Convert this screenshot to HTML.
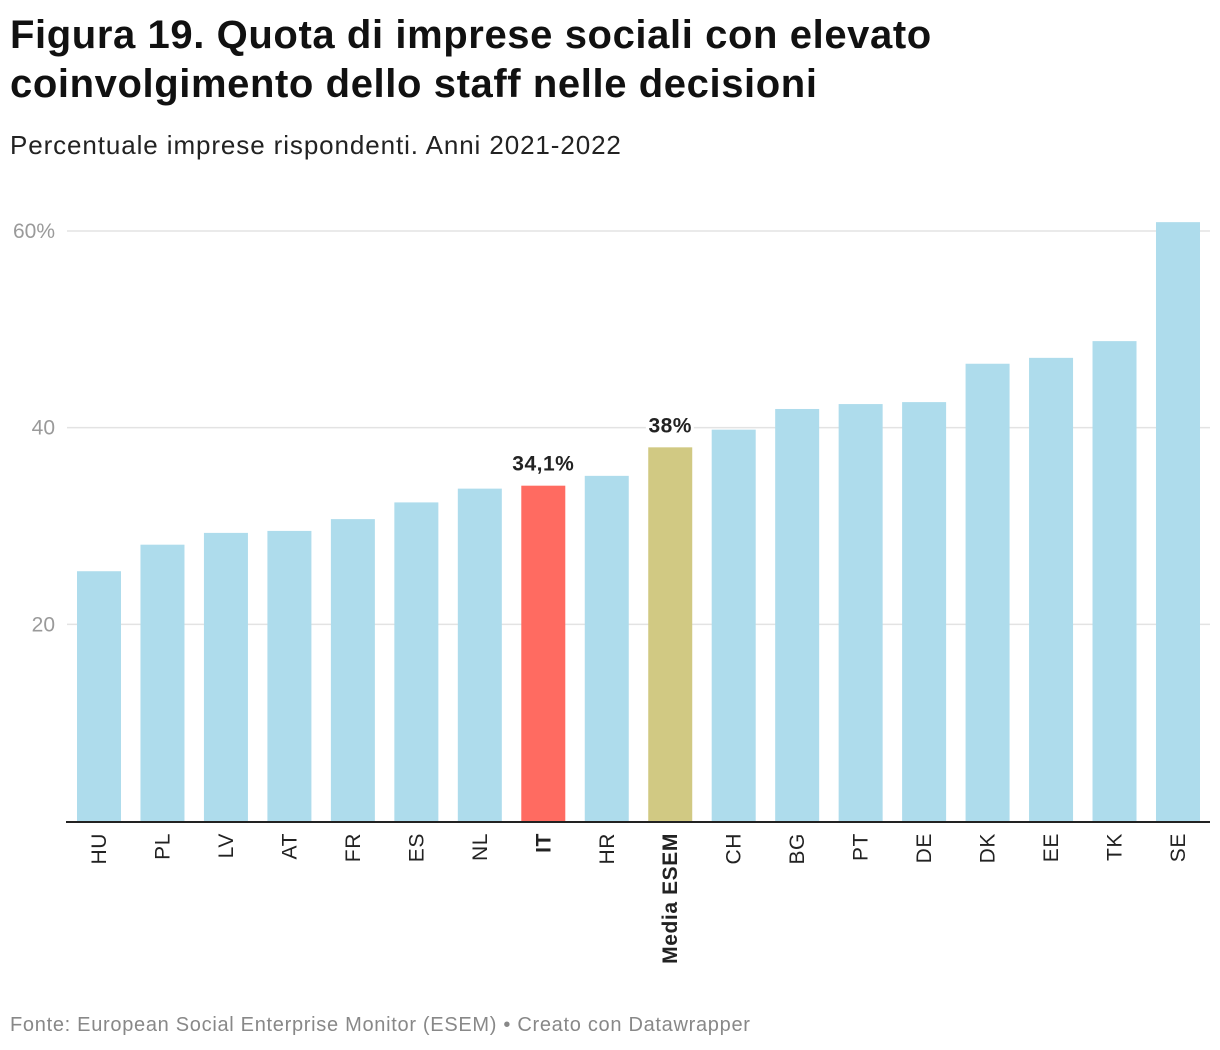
<!DOCTYPE html>
<html><head><meta charset="utf-8"><style>
body{margin:0;background:#fff;font-family:"Liberation Sans",sans-serif;}
#wrap{position:relative;width:1220px;height:1050px;overflow:hidden}
h1{position:absolute;left:10px;top:11px;margin:0;font-size:40px;line-height:49px;font-weight:bold;color:#111;letter-spacing:0.6px;white-space:nowrap}
.sub{position:absolute;left:10px;top:130px;font-size:26px;color:#222;letter-spacing:0.9px;white-space:nowrap}
.foot{position:absolute;left:10px;top:1014px;font-size:20px;color:#888;letter-spacing:0.7px;white-space:nowrap}
svg{position:absolute;left:0;top:0}
</style></head><body>
<div id="wrap">
<h1>Figura 19. Quota di imprese sociali con elevato<br>coinvolgimento dello staff nelle decisioni</h1>
<div class="sub">Percentuale imprese rispondenti. Anni 2021-2022</div>
<svg id="c" width="1220" height="1050"></svg>
<div class="foot">Fonte: European Social Enterprise Monitor (ESEM) • Creato con Datawrapper</div>
</div>
<script>
const categories=["HU","PL","LV","AT","FR","ES","NL","IT","HR","Media ESEM","CH","BG","PT","DE","DK","EE","TK","SE"];
const values=[25.4,28.1,29.3,29.5,30.7,32.4,33.8,34.1,35.1,38,39.8,41.9,42.4,42.6,46.5,47.1,48.8,60.9];
const tickValues=[20,40,60];
const tickLabels=["20","40","60%"];
const highlights={"IT":"#ff6b61","Media ESEM":"#d1c983"};
const valueLabels={"IT":"34,1%","Media ESEM":"38%"};
const NS="http://www.w3.org/2000/svg";
const svg=document.getElementById('c');
const y0=821, pxPer=(821-231)/60;
const y=v=>y0-v*pxPer;
const x=i=>77+i*63.47;
const bw=44;
function mk(t,a){const e=document.createElementNS(NS,t);for(const k in a)e.setAttribute(k,a[k]);svg.appendChild(e);return e;}
tickValues.forEach((v,i)=>{
 const g=mk('line',{x1:67,x2:1210,y1:y(v),y2:y(v),stroke:'#e3e3e3','stroke-width':1.5});
 
 
 const t=mk('text',{x:55,y:y(v)+7,'text-anchor':'end','font-size':21,fill:'#9a9a9a','font-family':'Liberation Sans, sans-serif'});
 t.textContent=tickLabels[i];
 
 
});
categories.forEach((c,i)=>{
 const r=mk('rect',{x:x(i),y:y(values[i]),width:bw,height:y0-y(values[i]),fill:highlights[c]||'#aedcec'});
 
 
 const cx=x(i)+bw/2;
 const bold=!!highlights[c];
 const t=mk('text',{transform:`translate(${cx+7},833) rotate(-90)`,'text-anchor':'end','font-size':21,'letter-spacing':0.6,fill:'#222','font-weight':bold?'bold':'normal','font-family':'Liberation Sans, sans-serif'});
 t.textContent=c;
 
 
 if(valueLabels[c]){
  const bg=mk('text',{x:cx,y:y(values[i])-15,'text-anchor':'middle','font-size':21,'letter-spacing':0.5,'font-weight':'bold',fill:'#222',stroke:'#fff','stroke-width':6,'paint-order':'stroke','font-family':'Liberation Sans, sans-serif'});
  bg.textContent=valueLabels[c];
  
  
 }
});
const ax=mk('line',{x1:66,x2:1210,y1:y0+1,y2:y0+1,stroke:'#222','stroke-width':2});


</script>
</body></html>
